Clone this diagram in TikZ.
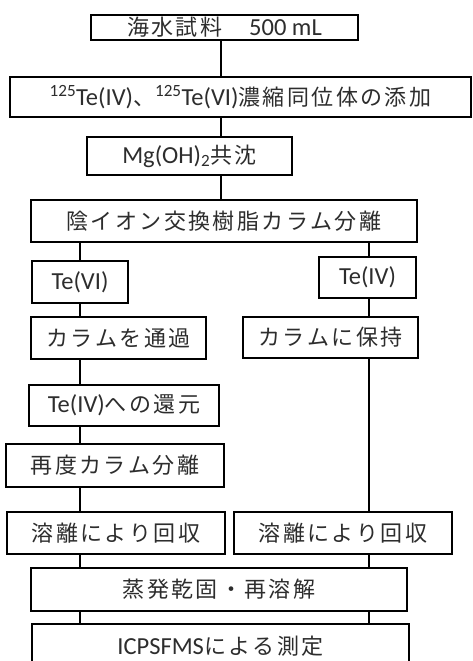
\documentclass[tikz,border=0pt]{standalone}
\usepackage{fontspec}
\setmainfont{Carlito}
\newfontfamily\jp{Noto Sans CJK JP}
\definecolor{txt}{RGB}{45,45,45}
\def\jsEnd{\jsEnd}
\def\jsA#1{\ifx#1\jsEnd\else #1\kern2.4pt\expandafter\jsA\fi}
\newcommand\jt[1]{{\fontsize{22}{27}\jp\jsA#1\jsEnd\kern-2.4pt}}
\tikzset{
  box/.style={draw=black, line width=1.6pt, inner sep=0pt, text=txt,
    font=\fontsize{24.5}{28}\selectfont},
  link/.style={draw=black, line width=1.6pt}
}
\begin{document}
\begin{tikzpicture}[x=1pt,y=-1pt]
\useasboundingbox (0,0) rectangle (472,661);
\clip (0,0) rectangle (472,661);
\fill[white] (0,0) rectangle (472,661);
\coordinate (cm) at (221,0);
\coordinate (cl) at (80,0);
\coordinate (cr) at (369,0);
% boxes
\node[box, minimum width=267, minimum height=25] (b1) at (224.5,27.5) {\jt{海水試料　}\kern2.4pt 500 mL};
\node[box, minimum width=461, minimum height=40] (b2) at (240.5,97) {\textsuperscript{125}Te(IV)\jt{、}\textsuperscript{125}Te(VI)\jt{濃縮同位体の添加}};
\node[box, minimum width=205, minimum height=38] (b3) at (189.5,156) {Mg(OH)\textsubscript{2}\jt{共沈}};
\node[box, minimum width=386, minimum height=42] (b4) at (224,221) {\jt{陰イオン交換樹脂カラム分離}};
\node[box, minimum width=96, minimum height=42] (b5) at (80,282) {Te(VI)};
\node[box, minimum width=97, minimum height=41] (b6) at (367.5,277.5) {Te(IV)};
\node[box, minimum width=175, minimum height=42] (b7) at (118.5,338) {\jt{カラムを通過}};
\node[box, minimum width=175, minimum height=41] (b8) at (330.5,337.5) {\jt{カラムに保持}};
\node[box, minimum width=190, minimum height=41] (b9) at (124,405.5) {Te(IV)\jt{への還元}};
\node[box, minimum width=218, minimum height=43] (b10) at (115,465.5) {\jt{再度カラム分離}};
\node[box, minimum width=218, minimum height=42] (b11) at (116,533) {\jt{溶離により回収}};
\node[box, minimum width=218, minimum height=42] (b12) at (343,533) {\jt{溶離により回収}};
\node[box, minimum width=376, minimum height=43] (b13) at (219,589.5) {\jt{蒸発乾固・再溶解}};
\node[box, minimum width=377, minimum height=44] (b14) at (220.5,646) {ICPSFMS\jt{による測定}};
% connectors
\draw[link] (b1.south -| cm) -- (b2.north -| cm);
\draw[link] (b2.south -| cm) -- (b3.north -| cm);
\draw[link] (b3.south -| cm) -- (b4.north -| cm);
\draw[link] (b4.south -| cl) -- (b5.north -| cl);
\draw[link] (b5.south -| cl) -- (b7.north -| cl);
\draw[link] (b7.south -| cl) -- (b9.north -| cl);
\draw[link] (b9.south -| cl) -- (b10.north -| cl);
\draw[link] (b10.south -| cl) -- (b11.north -| cl);
\draw[link] (b11.south -| cl) -- (b13.north -| cl);
\draw[link] (b13.south -| cl) -- (b14.north -| cl);
\draw[link] (b4.south -| cr) -- (b6.north -| cr);
\draw[link] (b6.south -| cr) -- (b8.north -| cr);
\draw[link] (b8.south -| cr) -- (b12.north -| cr);
\draw[link] (b12.south -| cr) -- (b13.north -| cr);
\draw[link] (b13.south -| cr) -- (b14.north -| cr);
\end{tikzpicture}
\end{document}
